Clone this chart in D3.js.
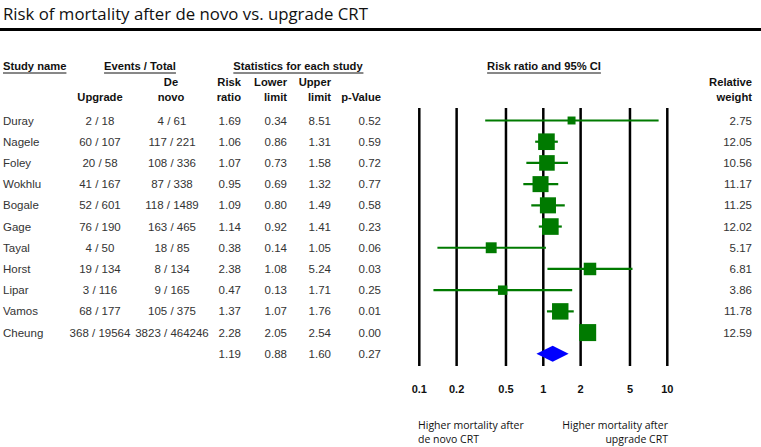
<!DOCTYPE html>
<html><head><meta charset="utf-8">
<script src="https://cdn.jsdelivr.net/npm/d3@7"></script>
<style>body{margin:0;background:#fff}svg{display:block}</style>
</head><body>
<svg id="c" width="761" height="447"></svg>
<script>
const studies = ["Duray","Nagele","Foley","Wokhlu","Bogale","Gage","Tayal","Horst","Lipar","Vamos","Cheung"];
const upgrade = ["2 / 18","60 / 107","20 / 58","41 / 167","52 / 601","76 / 190","4 / 50","19 / 134","3 / 116","68 / 177","368 / 19564"];
const denovo = ["4 / 61","117 / 221","108 / 336","87 / 338","118 / 1489","163 / 465","18 / 85","8 / 134","9 / 165","105 / 375","3823 / 464246"];
const riskRatio = [1.69,1.06,1.07,0.95,1.09,1.14,0.38,2.38,0.47,1.37,2.28];
const lowerLimit = [0.34,0.86,0.73,0.69,0.80,0.92,0.14,1.08,0.13,1.07,2.05];
const upperLimit = [8.51,1.31,1.58,1.32,1.49,1.41,1.05,5.24,1.71,1.76,2.54];
const pValue = ["0.52","0.59","0.72","0.77","0.58","0.23","0.06","0.03","0.25","0.01","0.00"];
const weight = [2.75,12.05,10.56,11.17,11.25,12.02,5.17,6.81,3.86,11.78,12.59];
const summary = {rr:1.19, lo:0.88, hi:1.60, p:"0.27"};
const ticks = [0.1,0.2,0.5,1,2,5,10];

const svg = d3.select("#c");
const sans = "'Liberation Sans', Arial, sans-serif";
const cal = "'Open Sans', 'Noto Sans', sans-serif";

// title
svg.append("text").attr("x",3).attr("y",20).attr("font-family",cal).attr("font-size",16.8).attr("fill","#111")
  .text("Risk of mortality after de novo vs. upgrade CRT");
svg.append("rect").attr("x",0).attr("y",28).attr("width",761).attr("height",3).attr("fill","#000");

const x = d3.scaleLog().domain([0.1,10]).range([419.3,667.3]);
const y = d3.scaleLinear().domain([0,11]).range([120.5,353.8]);
const sz = d3.scaleSqrt().domain([0,12.59]).range([0,17]);

// headers
function hdr(t, x0, yy, anchor, underline){
  const el = svg.append("text").attr("x",x0).attr("y",yy).attr("text-anchor",anchor)
    .attr("font-family",sans).attr("font-size",11.2).attr("font-weight","bold").attr("fill","#111").text(t);
  if(underline){
    const b = el.node().getBBox();
    svg.append("line").attr("x1",b.x).attr("x2",b.x+b.width).attr("y1",yy+3).attr("y2",yy+3).attr("stroke","#111").attr("stroke-width",1);
  }
}
hdr("Study name",3,70,"start",true);
hdr("Events / Total",140,70,"middle",true);
hdr("Statistics for each study",298,70,"middle",true);
hdr("Risk ratio and 95% CI",544,70,"middle",true);
hdr("De",171,86,"middle"); hdr("novo",171,101,"middle");
hdr("Upgrade",100,101,"middle");
hdr("Risk",241,86,"end"); hdr("ratio",241,101,"end");
hdr("Lower",287,86,"end"); hdr("limit",287,101,"end");
hdr("Upper",331,86,"end"); hdr("limit",331,101,"end");
hdr("p-Value",381,101,"end");
hdr("Relative",752,86,"end"); hdr("weight",752,101,"end");

// table rows
const fmt = d3.format(".2f");
const rows = studies.map((s,i)=>({s,i,up:upgrade[i],dn:denovo[i],rr:riskRatio[i],lo:lowerLimit[i],hi:upperLimit[i],p:pValue[i],w:weight[i]}));
const txt = (xx,yy,t,anchor)=>svg.append("text").attr("x",xx).attr("y",yy+4).attr("text-anchor",anchor)
  .attr("font-family",sans).attr("font-size",11.5).attr("fill","#333").text(t);
rows.forEach(r=>{
  const yy = y(r.i);
  txt(3,yy,r.s,"start");
  txt(100,yy,r.up,"middle");
  txt(172,yy,r.dn,"middle");
  txt(241,yy,fmt(r.rr),"end");
  txt(287,yy,fmt(r.lo),"end");
  txt(331,yy,fmt(r.hi),"end");
  txt(381,yy,r.p,"end");
  txt(752,yy,fmt(r.w),"end");
});
txt(241,y(11),fmt(summary.rr),"end");
txt(287,y(11),fmt(summary.lo),"end");
txt(331,y(11),fmt(summary.hi),"end");
txt(381,y(11),summary.p,"end");

// vertical grid lines
svg.selectAll("line.v").data(ticks).enter().append("line")
  .attr("x1",d=>x(d)).attr("x2",d=>x(d)).attr("y1",108).attr("y2",366)
  .attr("stroke","#000").attr("stroke-width",2.5);
svg.selectAll("text.t").data(ticks).enter().append("text")
  .attr("x",d=>x(d)).attr("y",393).attr("text-anchor","middle")
  .attr("font-family",sans).attr("font-size",11).attr("font-weight","bold").attr("fill","#111")
  .text(d=>String(d));

// CI lines and squares
const green = "#007a00";
svg.selectAll("line.ci").data(rows).enter().append("line")
  .attr("x1",d=>x(d.lo)).attr("x2",d=>x(d.hi)).attr("y1",d=>y(d.i)).attr("y2",d=>y(d.i))
  .attr("stroke",green).attr("stroke-width",2.2);
svg.selectAll("rect.sq").data(rows).enter().append("rect")
  .attr("x",d=>x(d.rr)-sz(d.w)/2).attr("y",d=>y(d.i)-sz(d.w)/2)
  .attr("width",d=>sz(d.w)).attr("height",d=>sz(d.w)).attr("fill",green);

// summary diamond
const ys = y(11), h = 8;
svg.append("path").attr("d",`M${x(summary.lo)},${ys}L${x(summary.rr)},${ys-h}L${x(summary.hi)},${ys}L${x(summary.rr)},${ys+h}Z`)
  .attr("fill","#0000ff");

// bottom labels
const bl = (xx,yy,t,anchor)=>svg.append("text").attr("x",xx).attr("y",yy).attr("text-anchor",anchor)
  .attr("font-family",cal).attr("font-size",10.5).attr("fill","#111").text(t);
bl(418,429,"Higher mortality after","start");
bl(418,443,"de novo CRT","start");
bl(668,429,"Higher mortality after","end");
bl(668,443,"upgrade CRT","end");
</script>
</body></html>
